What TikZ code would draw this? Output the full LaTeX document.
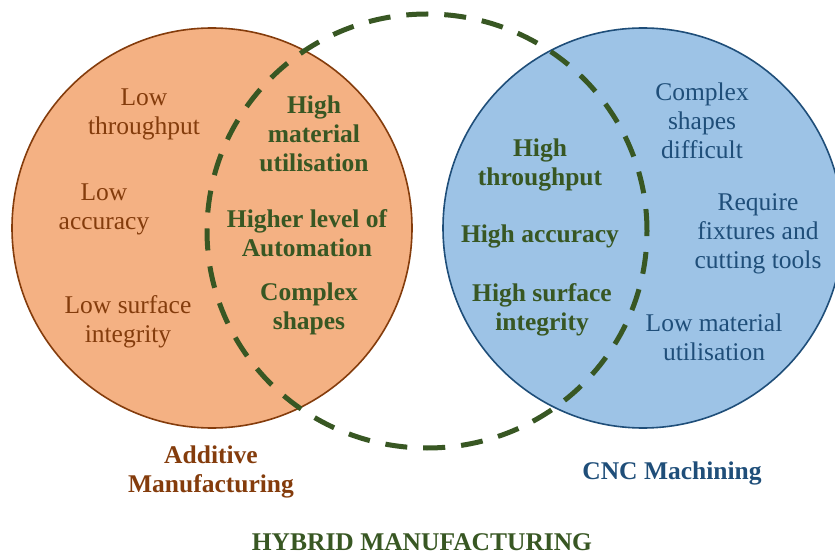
\documentclass[tikz,border=0pt]{standalone}
\usepackage{fontspec}
\setmainfont{Liberation Serif}
\definecolor{amfill}{HTML}{F4B183}
\definecolor{amline}{HTML}{843C0C}
\definecolor{cncfill}{HTML}{9DC3E6}
\definecolor{cncline}{HTML}{1F4E79}
\definecolor{hybgreen}{HTML}{385723}
\begin{document}
\begin{tikzpicture}[x=1pt,y=1pt,
  txt/.style={inner sep=0pt, align=center, font=\fontsize{25.5}{29}\selectfont},
  amtxt/.style={txt, text=amline},
  cnctxt/.style={txt, text=cncline},
  hybtxt/.style={txt, text=hybgreen, font=\fontsize{25.5}{29}\selectfont\bfseries},
  amset/.style={circle, draw=amline, fill=amfill, line width=1.6pt, minimum size=400pt, inner sep=0pt},
  cncset/.style={circle, draw=cncline, fill=cncfill, line width=1.6pt, minimum size=400pt, inner sep=0pt}
]
\useasboundingbox (0,0) rectangle (835,555);
\begin{scope}
\clip (0,0) rectangle (835,555);
\node[amset] (am) at (212,327) {};
\node[cncset] (cnc) at (643,327) {};
\coordinate (hyb) at (427,324);
\draw[hybgreen, line width=5pt, dash pattern=on 22pt off 16pt] (hyb) ellipse [x radius=220, y radius=217];
\end{scope}

% Additive only
\node[amtxt] (a1) at (144,441) {Low\\throughput};
\node[amtxt] (a2) at (104,346) {Low\\accuracy};
\node[amtxt] (a3) at (128,233) {Low surface\\integrity};

% Hybrid (left)
\node[hybtxt] (h1) at (314,421) {High\\material\\utilisation};
\node[hybtxt] (h2) at (307,322) {Higher level of\\Automation};
\node[hybtxt] (h3) at (309,246) {Complex\\shapes};

% Hybrid (right)
\node[hybtxt] (h4) at (540,390) {High\\throughput};
\node[hybtxt] (h5) at (540,319) {High accuracy};
\node[hybtxt] (h6) at (542,245) {High surface\\integrity};

% CNC only
\node[cnctxt] (c1) at (702,434) {Complex\\shapes\\difficult};
\node[cnctxt] (c2) at (758,321) {Require\\fixtures and\\cutting tools};
\node[cnctxt] (c3) at (714,218) {Low material\\utilisation};

% Labels
\node[txt, text=amline, font=\fontsize{25.5}{29}\selectfont\bfseries] (amlab) at (211,83) {Additive\\Manufacturing};
\node[txt, text=cncline, font=\fontsize{25.5}{29}\selectfont\bfseries] (cnclab) at (672,82) {CNC Machining};
\node[hybtxt] (hyblab) at (422,13) {HYBRID MANUFACTURING};
\end{tikzpicture}
\end{document}
